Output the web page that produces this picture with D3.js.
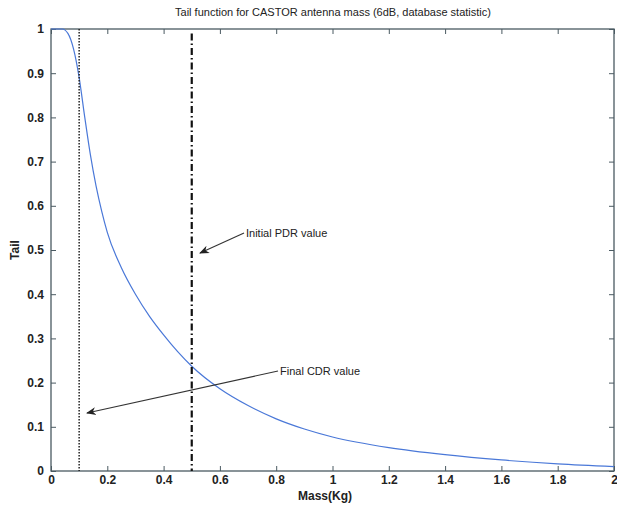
<!DOCTYPE html>
<html>
<head>
<meta charset="utf-8">
<script src="https://cdn.jsdelivr.net/npm/d3@7"></script>
<style>
  body { margin: 0; background: #fff; }
  svg { font-family: Arial, "Liberation Sans", sans-serif; }
</style>
</head>
<body>
<div id="chart"></div>
<script>
// tail curve
const massKg = [0, 0.02, 0.04, 0.06, 0.08, 0.1, 0.12, 0.14, 0.16, 0.18, 0.2, 0.25, 0.3, 0.35, 0.4, 0.45, 0.5, 0.6, 0.7, 0.8, 0.9, 1.0, 1.2, 1.4, 1.6, 1.8, 2.0];
const tailVals = [1, 1, 1, 0.99, 0.955, 0.89, 0.8, 0.715, 0.645, 0.588, 0.54, 0.46, 0.40, 0.35, 0.308, 0.27, 0.237, 0.186, 0.148, 0.118, 0.095, 0.077, 0.053, 0.037, 0.025, 0.016, 0.01];
const xTicks = [0, 0.2, 0.4, 0.6, 0.8, 1, 1.2, 1.4, 1.6, 1.8, 2];
const yTicks = [0, 0.1, 0.2, 0.3, 0.4, 0.5, 0.6, 0.7, 0.8, 0.9, 1];
const finalCDR = 0.1;
const initialPDR = 0.5;

const width = 617, height = 508;
const margin = {top: 29, right: 3, bottom: 37, left: 51};

const svg = d3.select("#chart").append("svg")
  .attr("width", width).attr("height", height);

const x = d3.scaleLinear().domain([0, 2]).range([margin.left, width - margin.right]);
const y = d3.scaleLinear().domain([0, 1]).range([height - margin.bottom, margin.top]);

const axisCol = "#4a5a62";

// box
svg.append("rect")
  .attr("x", x(0)).attr("y", y(1))
  .attr("width", x(2) - x(0)).attr("height", y(0) - y(1))
  .attr("fill", "none").attr("stroke", axisCol).attr("stroke-width", 1.3);

// axes, ticks pointing inward
const fmt = d => d3.format("~g")(d);
const xAx = svg.append("g").attr("transform", `translate(0,${y(0)})`)
  .call(d3.axisBottom(x).tickValues(xTicks).tickSize(-5).tickPadding(4).tickFormat(fmt));
const xAxTop = svg.append("g").attr("transform", `translate(0,${y(1)})`)
  .call(d3.axisTop(x).tickValues(xTicks).tickSize(-5).tickFormat(""));
const yAx = svg.append("g").attr("transform", `translate(${x(0)},0)`)
  .call(d3.axisLeft(y).tickValues(yTicks).tickSize(-5).tickPadding(7).tickFormat(fmt));
const yAxR = svg.append("g").attr("transform", `translate(${x(2)},0)`)
  .call(d3.axisRight(y).tickValues(yTicks).tickSize(-5).tickFormat(""));

[xAx, xAxTop, yAx, yAxR].forEach(g => {
  g.select(".domain").remove();
  g.selectAll(".tick line").attr("stroke", axisCol);
  g.selectAll("text").attr("fill", "#222").attr("font-size", 12).attr("font-weight", "bold");
});

// curve
const pts = massKg.map((m, i) => [m, tailVals[i]]);
svg.append("path")
  .datum(pts)
  .attr("fill", "none")
  .attr("stroke", "#4a78d8")
  .attr("stroke-width", 1.2)
  .attr("d", d3.line().x(d => x(d[0])).y(d => y(d[1])).curve(d3.curveMonotoneX));

// vertical markers
svg.append("line")
  .attr("x1", x(finalCDR)).attr("x2", x(finalCDR))
  .attr("y1", y(1)).attr("y2", y(0))
  .attr("stroke", "#222").attr("stroke-width", 1.5)
  .attr("stroke-dasharray", "1.5,1.5");
svg.append("line")
  .attr("x1", x(initialPDR)).attr("x2", x(initialPDR))
  .attr("y1", y(0.99)).attr("y2", y(0))
  .attr("stroke", "#111").attr("stroke-width", 2.2)
  .attr("stroke-dasharray", "7,3,1.5,3");

// arrows
const defs = svg.append("defs");
defs.append("marker")
  .attr("id", "arr").attr("viewBox", "0 0 10 10")
  .attr("refX", 9).attr("refY", 5)
  .attr("markerWidth", 9).attr("markerHeight", 9)
  .attr("orient", "auto")
  .append("path").attr("d", "M0,1 L10,5 L0,9 L3,5 Z").attr("fill", "#222");

svg.append("line")
  .attr("x1", 244).attr("y1", 233).attr("x2", 200).attr("y2", 253)
  .attr("stroke", "#333").attr("stroke-width", 1.1)
  .attr("marker-end", "url(#arr)");
svg.append("text").attr("x", 246).attr("y", 237)
  .attr("font-size", 11).attr("fill", "#222").text("Initial PDR value");

svg.append("line")
  .attr("x1", 278).attr("y1", 371).attr("x2", 87).attr("y2", 413)
  .attr("stroke", "#333").attr("stroke-width", 1.1)
  .attr("marker-end", "url(#arr)");
svg.append("text").attr("x", 280).attr("y", 375)
  .attr("font-size", 11).attr("fill", "#222").text("Final CDR value");

// title and labels
svg.append("text").attr("x", 333).attr("y", 16).attr("text-anchor", "middle")
  .attr("font-size", 11).attr("fill", "#222")
  .text("Tail function for CASTOR antenna mass (6dB, database statistic)");
svg.append("text").attr("x", 325).attr("y", 500).attr("text-anchor", "middle")
  .attr("font-size", 12).attr("font-weight", "bold").attr("fill", "#222").text("Mass(Kg)");
svg.append("text").attr("transform", `translate(19,${y(0.5)}) rotate(-90)`)
  .attr("text-anchor", "middle").attr("font-size", 12).attr("font-weight", "bold")
  .attr("fill", "#222").text("Tail");
</script>
</body>
</html>
